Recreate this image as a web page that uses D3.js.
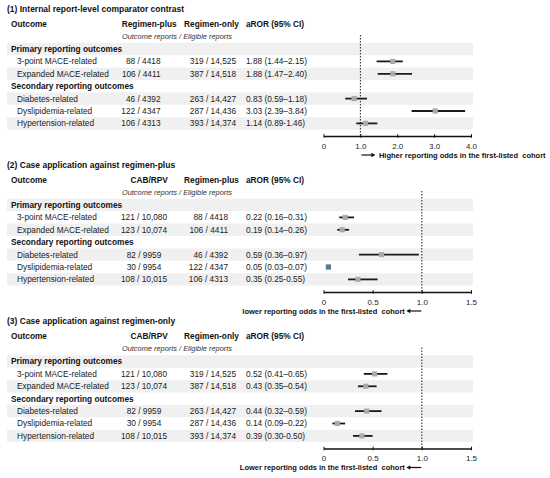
<!DOCTYPE html>
<html><head><meta charset="utf-8">
<script src="https://cdn.jsdelivr.net/npm/d3@7"></script>
<style>
html,body{margin:0;padding:0;background:#fff;}
svg{display:block;font-family:"Liberation Sans",Arial,sans-serif;}
</style></head>
<body>
<svg id="chart" width="550" height="478"></svg>
<script>
// ---------- DATA ----------
const outcomes = ["3-point MACE-related","Expanded MACE-related","Diabetes-related","Dyslipidemia-related","Hypertension-related"];
const groupLabels = ["Primary reporting outcomes","Secondary reporting outcomes"];
const outcomeGroup = [0,0,1,1,1];

const panelTitles = ["(1) Internal report-level comparator contrast","(2) Case application against regimen-plus","(3) Case application against regimen-only"];
const col1Headers = ["Regimen-plus","CAB/RPV","CAB/RPV"];
const col2Headers = ["Regimen-only","Regimen-plus","Regimen-only"];
const subHeader = "Outcome reports / Eligible reports";

const p1Col1 = ["88 / 4418","106 / 4411","46 / 4392","122 / 4347","106 / 4313"];
const p1Col2 = ["319 / 14,525","387 / 14,518","263 / 14,427","287 / 14,436","393 / 14,374"];
const p1Est  = [1.88,1.88,0.83,3.03,1.14];
const p1Lo   = [1.44,1.47,0.59,2.39,0.89];
const p1Hi   = [2.15,2.40,1.18,3.84,1.46];
const p1Text = ["1.88 (1.44–2.15)","1.88 (1.47–2.40)","0.83 (0.59–1.18)","3.03 (2.39–3.84)","1.14 (0.89-1.46)"];

const p2Col1 = ["121 / 10,080","123 / 10,074","82 / 9959","30 / 9954","108 / 10,015"];
const p2Col2 = ["88 / 4418","106 / 4411","46 / 4392","122 / 4347","106 / 4313"];
const p2Est  = [0.22,0.19,0.59,0.05,0.35];
const p2Lo   = [0.16,0.14,0.36,0.03,0.25];
const p2Hi   = [0.31,0.26,0.97,0.07,0.55];
const p2Text = ["0.22 (0.16–0.31)","0.19 (0.14–0.26)","0.59 (0.36–0.97)","0.05 (0.03–0.07)","0.35 (0.25-0.55)"];

const p3Col1 = ["121 / 10,080","123 / 10,074","82 / 9959","30 / 9954","108 / 10,015"];
const p3Col2 = ["319 / 14,525","387 / 14,518","263 / 14,427","287 / 14,436","393 / 14,374"];
const p3Est  = [0.52,0.43,0.44,0.14,0.39];
const p3Lo   = [0.41,0.35,0.32,0.09,0.30];
const p3Hi   = [0.65,0.54,0.59,0.22,0.50];
const p3Text = ["0.52 (0.41–0.65)","0.43 (0.35–0.54)","0.44 (0.32–0.59)","0.14 (0.09–0.22)","0.39 (0.30-0.50)"];

const p1Ticks = [0,1,2,3,4];
const p1TickLabels = ["0","1.0","2.0","3.0","4.0"];
const p23Ticks = [0,0.5,1,1.5];
const p23TickLabels = ["0","0.5","1.0","1.5"];
const arrowTexts = ["Higher reporting odds in the first-listed  cohort","lower reporting odds in the first-listed  cohort","Lower reporting odds in the first-listed  cohort"];

// ---------- LAYOUT ----------
const panels = [
  {top:9,   col1:p1Col1, col2:p1Col2, est:p1Est, lo:p1Lo, hi:p1Hi, txt:p1Text, domain:[0,4],   ticks:p1Ticks,  tl:p1TickLabels,  dir:1,  col1Anchor:"end", col1X:160.5, col2X:236},
  {top:165, col1:p2Col1, col2:p2Col2, est:p2Est, lo:p2Lo, hi:p2Hi, txt:p2Text, domain:[0,1.5], ticks:p23Ticks, tl:p23TickLabels, dir:-1, col1Anchor:"middle", col1X:144, col2X:228},
  {top:321.5,col1:p3Col1,col2:p3Col2, est:p3Est, lo:p3Lo, hi:p3Hi, txt:p3Text, domain:[0,1.5], ticks:p23Ticks, tl:p23TickLabels, dir:-1, col1Anchor:"middle", col1X:144, col2X:236}
];

const svg = d3.select("#chart");
const FS = 8.3;
const rowStep = 12.4;
const bandX0 = 7, bandX1 = 473;
const axX0 = 323.5, axX1 = 471;

panels.forEach((p, pi) => {
  const g = svg.append("g").attr("transform", `translate(0,${p.top})`);
  const x = d3.scaleLinear().domain(p.domain).range([axX0, axX1]);

  const rows = [];
  let r = 0;
  groupLabels.forEach((gl, gi) => {
    rows.push({type:"group", label: gl, idx: r++});
    outcomes.forEach((o, oi) => { if (outcomeGroup[oi] === gi) rows.push({type:"item", label:o, oi, idx:r++}); });
  });
  const rowY = i => 40 + i * rowStep;

  g.selectAll("rect.band").data(rows.filter(d => d.idx % 2 === 0)).enter().append("rect")
    .attr("x", bandX0).attr("width", bandX1 - bandX0)
    .attr("y", d => rowY(d.idx) - rowStep/2).attr("height", rowStep)
    .attr("fill", "#f0f0f0");

  g.append("text").attr("x", 7).attr("y", 0).attr("dy", "0.35em")
    .attr("font-size", 8.5).attr("font-weight", "bold").attr("fill", "#111").text(panelTitles[pi]);

  const hy = 15;
  g.append("text").attr("x", 11).attr("y", hy).attr("dy","0.35em").attr("font-size",FS).attr("font-weight","bold").attr("fill","#111").text("Outcome");
  g.append("text").attr("x", 149.2).attr("y", hy).attr("dy","0.35em").attr("text-anchor","middle").attr("font-size",FS).attr("font-weight","bold").attr("fill","#111").text(col1Headers[pi]);
  g.append("text").attr("x", 211.5).attr("y", hy).attr("dy","0.35em").attr("text-anchor","middle").attr("font-size",FS).attr("font-weight","bold").attr("fill","#111").text(col2Headers[pi]);
  g.append("text").attr("x", 246).attr("y", hy).attr("dy","0.35em").attr("font-size",FS).attr("font-weight","bold").attr("fill","#111").text("aROR (95% CI)");
  g.append("text").attr("x", 177).attr("y", 27).attr("dy","0.35em").attr("text-anchor","middle").attr("font-size",7.4).attr("font-style","italic").attr("fill","#333").text(subHeader);

  rows.forEach(d => {
    const y = rowY(d.idx);
    if (d.type === "group") {
      g.append("text").attr("x", 11).attr("y", y).attr("dy","0.35em").attr("font-size",FS).attr("font-weight","bold").attr("fill","#111").text(d.label);
    } else {
      g.append("text").attr("x", 17).attr("y", y).attr("dy","0.35em").attr("font-size",FS).attr("fill","#1a1a1a").text(d.label);
      g.append("text").attr("x", p.col1X).attr("y", y).attr("dy","0.35em").attr("text-anchor",p.col1Anchor).attr("font-size",FS).attr("fill","#1a1a1a").text(p.col1[d.oi]);
      g.append("text").attr("x", p.col2X).attr("y", y).attr("dy","0.35em").attr("text-anchor","end").attr("font-size",FS).attr("fill","#1a1a1a").text(p.col2[d.oi]);
      g.append("text").attr("x", 246).attr("y", y).attr("dy","0.35em").attr("font-size",FS).attr("fill","#1a1a1a").text(p.txt[d.oi]);
    }
  });

  const axisY = 127;
  g.append("line").attr("x1", x(1)).attr("x2", x(1)).attr("y1", 26).attr("y2", axisY)
    .attr("stroke", "#222").attr("stroke-width", 1).attr("stroke-dasharray", "1.5,1.5");

  const items = rows.filter(d => d.type === "item");
  g.selectAll("line.ci").data(items).enter().append("line")
    .attr("x1", d => x(p.lo[d.oi])).attr("x2", d => x(p.hi[d.oi]))
    .attr("y1", d => rowY(d.idx)).attr("y2", d => rowY(d.idx))
    .attr("stroke", "#1a1a1a").attr("stroke-width", 1.8);
  const sq = 5.2;
  g.selectAll("rect.pt").data(items).enter().append("rect")
    .attr("x", d => x(p.est[d.oi]) - sq/2).attr("y", d => rowY(d.idx) - sq/2)
    .attr("width", sq).attr("height", sq)
    .attr("fill", d => (x(p.hi[d.oi]) - x(p.lo[d.oi]) < sq) ? "#557a86" : "#aaaaaa");

  const axis = d3.axisBottom(x).tickValues(p.ticks).tickFormat((d,i) => p.tl[i]).tickSizeInner(3).tickSizeOuter(0);
  const ag = g.append("g").attr("transform", `translate(0,${axisY})`).call(axis);
  ag.select(".domain").attr("stroke", "#111").attr("stroke-width", 1.5);
  ag.selectAll(".tick line").attr("y1", -1.8).attr("y2", 1.8).attr("stroke", "#111").attr("stroke-width", 1);
  ag.selectAll(".tick text").attr("y", 10).attr("dy", "0.35em").attr("font-size", 8).attr("fill", "#222")
    .attr("font-family", "'Liberation Sans',Arial,sans-serif");

  const ay = 146;
  const at = g.append("text").attr("y", ay).attr("dy", "0.35em").attr("font-size", 7.5).attr("font-weight", "bold")
    .attr("fill", "#111").style("white-space", "pre").text(arrowTexts[pi]);
  if (p.dir === 1) {
    const ax0 = x(1) + 1, ax1 = ax0 + 14;
    at.attr("x", ax1 + 3.5);
    g.append("line").attr("x1", ax0).attr("x2", ax1 - 3).attr("y1", ay).attr("y2", ay).attr("stroke", "#111").attr("stroke-width", 1.2);
    g.append("path").attr("d", `M${ax1},${ay} L${ax1-4},${ay-2.2} L${ax1-4},${ay+2.2} Z`).attr("fill", "#111");
  } else {
    const ax1 = x(1) - 0.5, ax0 = ax1 - 15;
    at.attr("x", ax0 - 1.5).attr("text-anchor", "end");
    g.append("line").attr("x1", ax0 + 3).attr("x2", ax1).attr("y1", ay).attr("y2", ay).attr("stroke", "#111").attr("stroke-width", 1.2);
    g.append("path").attr("d", `M${ax0},${ay} L${ax0+4},${ay-2.2} L${ax0+4},${ay+2.2} Z`).attr("fill", "#111");
  }
});
</script>
</body></html>
